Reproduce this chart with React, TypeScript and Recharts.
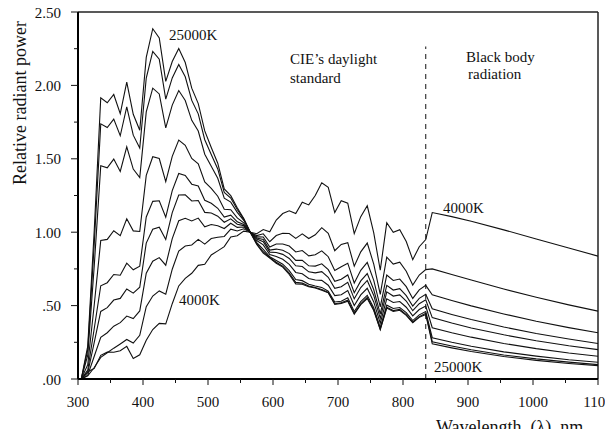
import React from 'react';
import { LineChart, Line, XAxis, YAxis, ReferenceLine } from 'recharts';

// wavelength (nm): CIE daylight table 300-830, then black body 840-1095
const wavelengths = [
  300, 310, 320, 330, 340, 350, 360, 370, 380, 390,
  400, 410, 420, 430, 440, 450, 460, 470, 480, 490,
  500, 510, 520, 530, 540, 550, 560, 570, 580, 590,
  600, 610, 620, 630, 640, 650, 660, 670, 680, 690,
  700, 710, 720, 730, 740, 750, 760, 770, 780, 790,
  800, 810, 820, 830,
  840, 870, 900, 950, 1000, 1050, 1095,
];

// relative radiant power, normalised to 1 at 560 nm
const k4000 = [
  0, 0.049, 0.072, 0.161, 0.183, 0.182, 0.193, 0.222, 0.140, 0.165,
  0.264, 0.337, 0.379, 0.376, 0.513, 0.634, 0.685, 0.720, 0.774, 0.782,
  0.845, 0.873, 0.902, 0.968, 0.976, 1.007, 1.000, 0.990, 1.018, 1.003,
  1.083, 1.127, 1.146, 1.127, 1.204, 1.186, 1.250, 1.337, 1.306, 1.134,
  1.215, 1.198, 0.990, 1.106, 1.180, 0.995, 0.741, 1.064, 0.999, 1.017,
  0.937, 0.813, 0.901, 0.950,
  1.134, 1.106, 1.074, 1.016, 0.954, 0.892, 0.837,
];
const k5000 = [
  0, 0.021, 0.078, 0.147, 0.179, 0.210, 0.239, 0.269, 0.245, 0.298,
  0.493, 0.565, 0.600, 0.578, 0.748, 0.872, 0.906, 0.913, 0.951, 0.919,
  0.957, 0.966, 0.971, 1.021, 1.008, 1.023, 1.000, 0.977, 0.989, 0.935,
  0.977, 0.993, 0.991, 0.958, 0.989, 0.957, 0.982, 1.031, 0.992, 0.874,
  0.917, 0.929, 0.769, 0.866, 0.926, 0.783, 0.577, 0.830, 0.783, 0.796,
  0.734, 0.640, 0.708, 0.745,
  0.750, 0.712, 0.674, 0.613, 0.557, 0.505, 0.462,
];
const k6000 = [
  0, 0.026, 0.155, 0.284, 0.315, 0.360, 0.384, 0.429, 0.412, 0.464,
  0.721, 0.802, 0.827, 0.775, 0.956, 1.078, 1.095, 1.077, 1.096, 1.037,
  1.052, 1.044, 1.025, 1.061, 1.033, 1.035, 1.000, 0.968, 0.967, 0.899,
  0.920, 0.920, 0.906, 0.865, 0.875, 0.839, 0.846, 0.873, 0.833, 0.740,
  0.765, 0.789, 0.654, 0.740, 0.794, 0.672, 0.492, 0.708, 0.671, 0.681,
  0.629, 0.549, 0.607, 0.638,
  0.574, 0.535, 0.498, 0.443, 0.393, 0.350, 0.315,
];
const k7000 = [
  0, 0.042, 0.250, 0.460, 0.486, 0.538, 0.549, 0.613, 0.585, 0.625,
  0.926, 1.020, 1.034, 0.951, 1.133, 1.253, 1.254, 1.213, 1.216, 1.135,
  1.131, 1.109, 1.068, 1.091, 1.054, 1.045, 1.000, 0.960, 0.950, 0.878,
  0.885, 0.877, 0.854, 0.808, 0.808, 0.771, 0.769, 0.785, 0.745, 0.665,
  0.680, 0.709, 0.588, 0.668, 0.718, 0.608, 0.443, 0.638, 0.606, 0.615,
  0.568, 0.497, 0.549, 0.577,
  0.478, 0.440, 0.405, 0.354, 0.310, 0.272, 0.242,
];
const k8000 = [
  0, 0.061, 0.344, 0.635, 0.656, 0.712, 0.707, 0.789, 0.744, 0.769,
  1.104, 1.210, 1.214, 1.103, 1.283, 1.400, 1.387, 1.327, 1.315, 1.217,
  1.197, 1.163, 1.103, 1.116, 1.071, 1.053, 1.000, 0.953, 0.935, 0.864,
  0.862, 0.849, 0.821, 0.771, 0.766, 0.730, 0.723, 0.731, 0.693, 0.618,
  0.628, 0.659, 0.546, 0.623, 0.671, 0.569, 0.413, 0.594, 0.565, 0.573,
  0.531, 0.465, 0.513, 0.539,
  0.418, 0.381, 0.348, 0.301, 0.260, 0.226, 0.200,
];
const k10000 = [
  0, 0.098, 0.506, 0.943, 0.951, 1.010, 0.976, 1.091, 1.009, 1.005,
  1.387, 1.514, 1.502, 1.344, 1.517, 1.627, 1.592, 1.502, 1.466, 1.343,
  1.299, 1.245, 1.156, 1.153, 1.097, 1.064, 1.000, 0.943, 0.914, 0.848,
  0.835, 0.816, 0.781, 0.726, 0.717, 0.685, 0.674, 0.672, 0.639, 0.568,
  0.574, 0.603, 0.501, 0.573, 0.618, 0.525, 0.380, 0.546, 0.521, 0.528,
  0.489, 0.430, 0.473, 0.497,
  0.349, 0.315, 0.285, 0.242, 0.207, 0.177, 0.155,
];
const k15000 = [
  0, 0.163, 0.772, 1.452, 1.439, 1.498, 1.414, 1.581, 1.430, 1.372,
  1.819, 1.981, 1.942, 1.711, 1.866, 1.965, 1.897, 1.762, 1.689, 1.531,
  1.450, 1.367, 1.232, 1.205, 1.135, 1.081, 1.000, 0.929, 0.883, 0.833,
  0.807, 0.782, 0.738, 0.678, 0.670, 0.646, 0.634, 0.624, 0.598, 0.525,
  0.530, 0.553, 0.460, 0.527, 0.570, 0.485, 0.350, 0.503, 0.480, 0.487,
  0.452, 0.398, 0.437, 0.459,
  0.281, 0.250, 0.223, 0.185, 0.156, 0.131, 0.114,
];
const k20000 = [
  0, 0.200, 0.921, 1.738, 1.713, 1.770, 1.657, 1.853, 1.661, 1.573,
  2.050, 2.232, 2.179, 1.907, 2.051, 2.143, 2.059, 1.898, 1.806, 1.630,
  1.529, 1.431, 1.271, 1.233, 1.155, 1.089, 1.000, 0.921, 0.867, 0.827,
  0.795, 0.768, 0.721, 0.658, 0.653, 0.634, 0.623, 0.610, 0.589, 0.513,
  0.519, 0.537, 0.447, 0.512, 0.555, 0.472, 0.340, 0.489, 0.466, 0.474,
  0.439, 0.387, 0.425, 0.447,
  0.254, 0.225, 0.199, 0.164, 0.137, 0.115, 0.098,
];
const k25000 = [
  0, 0.224, 1.013, 1.915, 1.882, 1.938, 1.807, 2.022, 1.803, 1.695,
  2.191, 2.386, 2.324, 2.027, 2.163, 2.252, 2.156, 1.981, 1.876, 1.690,
  1.577, 1.470, 1.295, 1.249, 1.167, 1.094, 1.000, 0.917, 0.858, 0.824,
  0.789, 0.762, 0.712, 0.648, 0.645, 0.629, 0.620, 0.604, 0.587, 0.508,
  0.515, 0.530, 0.441, 0.506, 0.548, 0.466, 0.336, 0.483, 0.460, 0.468,
  0.434, 0.383, 0.420, 0.440,
  0.240, 0.212, 0.187, 0.153, 0.127, 0.106, 0.091,
];

const series = [
  { key: 't4000', values: k4000 },
  { key: 't5000', values: k5000 },
  { key: 't6000', values: k6000 },
  { key: 't7000', values: k7000 },
  { key: 't8000', values: k8000 },
  { key: 't10000', values: k10000 },
  { key: 't15000', values: k15000 },
  { key: 't20000', values: k20000 },
  { key: 't25000', values: k25000 },
];

const xTicks = [300, 350, 400, 450, 500, 550, 600, 650, 700, 750, 800, 850, 900, 950, 1000, 1050, 1100];
const yTicks = [0, 0.25, 0.5, 0.75, 1, 1.25, 1.5, 1.75, 2, 2.25, 2.5];

// the original plot puts each 10 nm sample in the middle of its bin
const BIN_SHIFT = 5;

const rows = wavelengths.map((w, i) => {
  const r: any = { wl: w + BIN_SHIFT };
  series.forEach((s) => { r[s.key] = s.values[i]; });
  return r;
});

const FONT = '"Liberation Serif", "Times New Roman", serif';
const INK = '#111';

const XTick = (props: any) => {
  const { x, y, payload } = props;
  const major = payload.value % 100 === 0;
  return (
    <g>
      <line x1={x} x2={x} y1={y} y2={y + (major ? 6 : 4)} stroke={INK} strokeWidth={1} />
      {major && (
        <text x={x} y={y + 28} textAnchor="middle" fontSize={15} fontFamily={FONT} fill={INK}>
          {payload.value}
        </text>
      )}
    </g>
  );
};

const YTick = (props: any) => {
  const { x, y, payload } = props;
  const v = payload.value;
  const major = Math.abs(v * 2 - Math.round(v * 2)) < 1e-6;
  const label = v.toFixed(2).replace(/^0/, '');
  return (
    <g>
      <line x1={x - (major ? 7 : 4)} x2={x} y1={y} y2={y} stroke={INK} strokeWidth={1} />
      {major && (
        <text x={x - 17} y={y + 5.5} textAnchor="end" fontSize={15} fontFamily={FONT} fill={INK}>
          {label}
        </text>
      )}
    </g>
  );
};

const note = (left: number, top: number, size = 15, lh = 18): React.CSSProperties => ({
  position: 'absolute',
  left,
  top,
  fontFamily: FONT,
  fontSize: size,
  lineHeight: `${lh}px`,
  color: INK,
  whiteSpace: 'pre',
});

export default function App() {
  return (
    <div style={{ position: 'relative', width: 613, height: 437, margin: '-8px 0 -8px -8px', overflow: 'hidden' }}>
      <LineChart width={613} height={437} data={rows} margin={{ top: 12, right: 15, bottom: 0, left: 0 }}>
        <XAxis
          dataKey="wl"
          type="number"
          domain={[300, 1100]}
          ticks={xTicks}
          interval={0}
          tickSize={0}
          tickMargin={0}
          tickLine={false}
          tick={XTick}
          height={58}
          axisLine={{ stroke: '#000', strokeWidth: 2 }}
          allowDataOverflow
        />
        <YAxis
          type="number"
          domain={[0, 2.5]}
          ticks={yTicks}
          interval={0}
          tickSize={0}
          tickMargin={0}
          tickLine={false}
          tick={YTick}
          width={78}
          axisLine={{ stroke: '#000', strokeWidth: 2 }}
          allowDataOverflow
        />
        {/* frame: top edge and right edge of the plot box */}
        <ReferenceLine
          segment={[{ x: 300, y: 2.5 }, { x: 1100, y: 2.5 }]}
          stroke="#222"
          strokeWidth={1.5}
          ifOverflow="visible"
        />
        <ReferenceLine
          segment={[{ x: 1100, y: 0 }, { x: 1100, y: 2.5 }]}
          stroke="#222"
          strokeWidth={1.5}
          ifOverflow="visible"
        />
        <ReferenceLine
          segment={[{ x: 835, y: 0 }, { x: 835, y: 2.265 }]}
          stroke={INK}
          strokeWidth={1}
          strokeDasharray="5 5"
        />
        {series.map((s) => (
          <Line
            key={s.key}
            dataKey={s.key}
            type="linear"
            stroke={INK}
            strokeWidth={1.1}
            dot={false}
            isAnimationActive={false}
          />
        ))}
      </LineChart>

      <div style={note(169, 26)}>25000K</div>
      <div style={note(290, 50)}>CIE’s daylight</div>
      <div style={note(290, 69)}>standard</div>
      <div style={note(466, 48)}>Black body</div>
      <div style={note(468, 65)}>radiation</div>
      <div style={note(443, 199)}>4000K</div>
      <div style={note(179, 291)}>4000K</div>
      <div style={note(434, 358)}>25000K</div>

      <div
        style={{
          position: 'absolute',
          left: -90,
          top: 92,
          width: 220,
          height: 22,
          lineHeight: '22px',
          textAlign: 'center',
          fontFamily: FONT,
          fontSize: 18,
          color: INK,
          transform: 'rotate(-90deg)',
        }}
      >
        Relative radiant power
      </div>
      <div style={note(436, 417, 18, 20)}>{'Wavelength  (λ), nm'}</div>
    </div>
  );
}
